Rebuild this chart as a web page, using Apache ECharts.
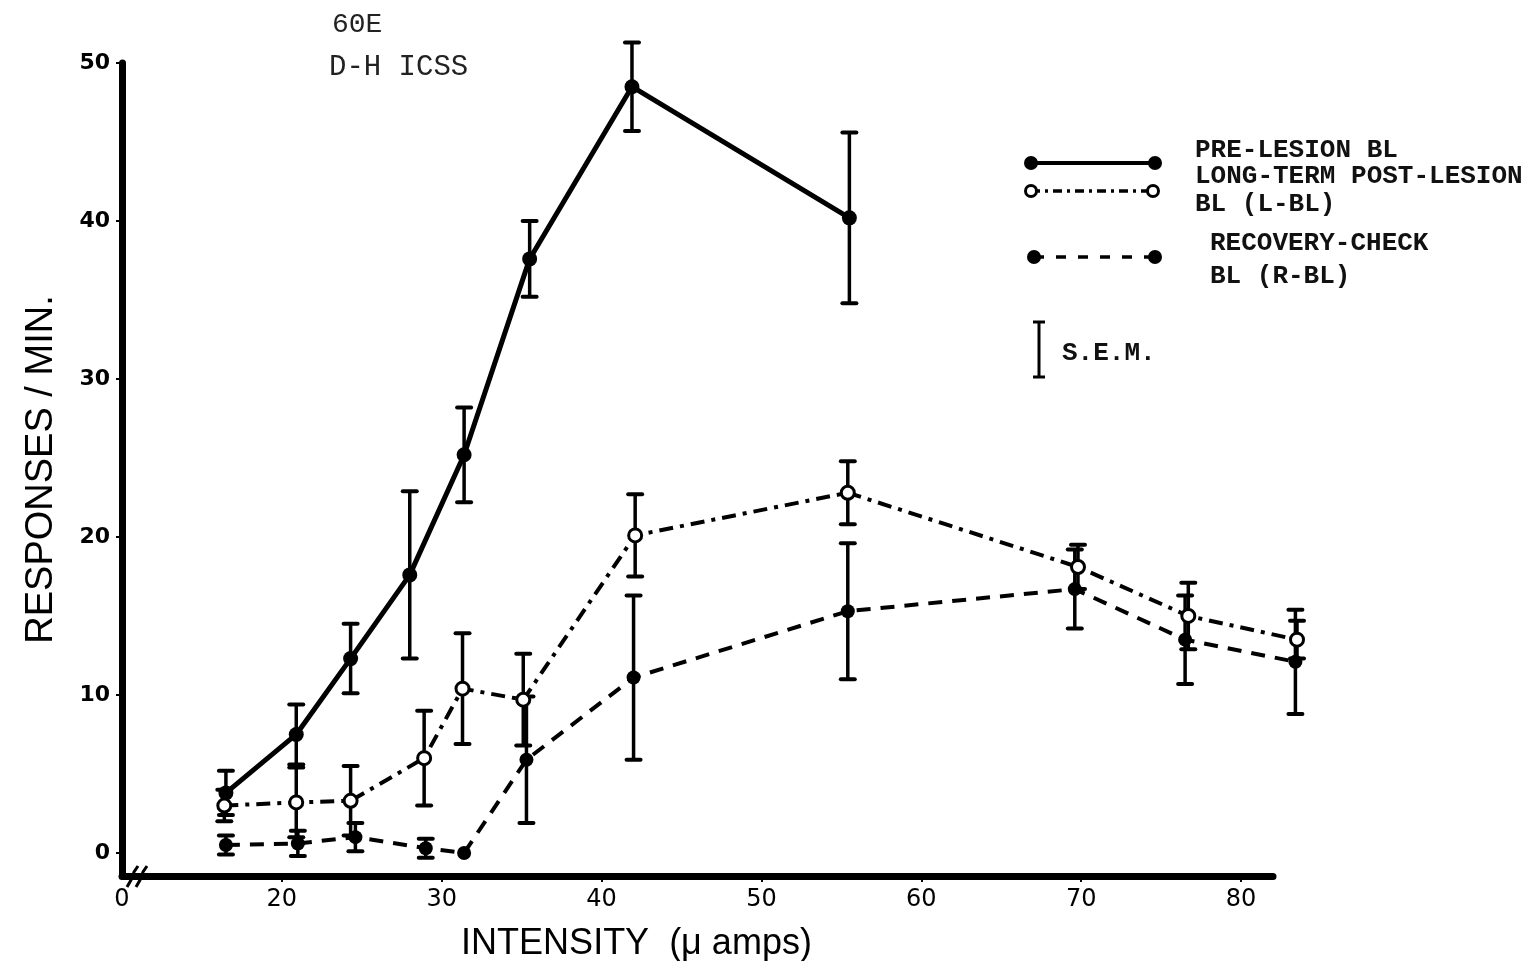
<!DOCTYPE html>
<html><head><meta charset="utf-8">
<script src="https://cdn.jsdelivr.net/npm/echarts@6/dist/echarts.min.js"></script>
<style>html,body{margin:0;padding:0;background:#fff}#c{width:1531px;height:961px}</style>
</head><body><div id="c"></div>
<script>
// Axis ticks (the "0" tick sits at the broken-axis start)
const xTickValues = [10, 20, 30, 40, 50, 60, 70, 80];
const xTickLabels = ['0', '20', '30', '40', '50', '60', '70', '80'];
const yTickValues = [0, 10, 20, 30, 40, 50];

// PRE-LESION BL (solid, filled circles)
const preX   = [16.5, 20.9, 24.3, 28.0, 31.4, 35.5, 41.9, 55.5];
const preY   = [3.8, 7.5, 12.3, 17.6, 25.2, 37.6, 48.5, 40.2];
const preSem = [1.4, 1.9, 2.2, 5.3, 3.0, 2.4, 2.8, 5.4];

// LONG-TERM POST-LESION BL (L-BL) (dash-dot, open circles)
const lblX   = [16.4, 20.9, 24.3, 28.9, 31.3, 35.1, 42.1, 55.4, 69.8, 76.7, 83.5];
const lblY   = [3.0, 3.2, 3.3, 6.0, 10.4, 9.7, 20.1, 22.8, 18.1, 15.0, 13.5];
const lblSem = [1.0, 2.2, 2.2, 3.0, 3.5, 2.9, 2.6, 2.0, 1.4, 2.1, 1.2];

// RECOVERY-CHECK BL (R-BL) (dashed, filled circles)
const rblX   = [16.5, 21.0, 24.6, 29.0, 31.4, 35.3, 42.0, 55.4, 69.6, 76.5, 83.4];
const rblY   = [0.5, 0.6, 1.0, 0.3, 0.0, 5.9, 11.1, 15.3, 16.7, 13.5, 12.1];
const rblSem = [0.6, 0.8, 0.9, 0.6, 0, 4.0, 5.2, 4.3, 2.5, 2.8, 3.3];

const pts = (xs, ys) => xs.map((x, i) => [x, ys[i]]);
const errPts = (xs, ys, es) => xs.map((x, i) => [x, ys[i], es[i]]);

function errRender(params, api) {
  const x = api.value(0), y = api.value(1), e = api.value(2);
  if (!e) return { type: 'group', children: [] };
  const top = api.coord([x, y + e]), bot = api.coord([x, y - e]);
  const w = 7;
  return { type: 'group', children: [
    { type: 'line', shape: { x1: top[0], y1: top[1], x2: bot[0], y2: bot[1] }, style: { stroke: '#000', lineWidth: 3.5 } },
    { type: 'line', shape: { x1: top[0] - w, y1: top[1], x2: top[0] + w, y2: top[1] }, style: { stroke: '#000', lineWidth: 4, lineCap: 'round' } },
    { type: 'line', shape: { x1: bot[0] - w, y1: bot[1], x2: bot[0] + w, y2: bot[1] }, style: { stroke: '#000', lineWidth: 4, lineCap: 'round' } }
  ] };
}

const errSeries = (name, data) => ({
  type: 'custom', name, data, renderItem: errRender, clip: false, z: 2,
  xAxisIndex: 0, yAxisIndex: 0, encode: { x: 0, y: 1 }, silent: true
});

const chart = echarts.init(document.getElementById('c'), null, { renderer: 'canvas' });
const legText = { fontFamily: 'Liberation Mono', fontWeight: 'bold', fontSize: 26, fill: '#111' };

// plot grid: x from 10 to 84 (data extends past the drawn axis line)
// axis grid: x from 10 to 82 (drawn axis line, ticks and labels) — same scale
chart.setOption({
  backgroundColor: '#fff',
  animation: false,
  grid: [
    { left: 122, right: 226, top: 63, bottom: 85, containLabel: false, outerBoundsMode: 'none' },
    { left: 122, right: 258, top: 63, bottom: 85, containLabel: false, outerBoundsMode: 'none' }
  ],
  xAxis: [
    {
      gridIndex: 0, type: 'value', min: 10, max: 84,
      axisLine: { show: false }, axisTick: { show: false }, axisLabel: { show: false }, splitLine: { show: false }
    },
    {
      gridIndex: 1, type: 'value', min: 10, max: 82,
      axisLine: { show: true, onZero: false, lineStyle: { color: '#000', width: 7 } },
      axisTick: { show: true, customValues: xTickValues.slice(1), length: 6, lineStyle: { color: '#000', width: 2 } },
      axisLabel: {
        customValues: xTickValues, margin: 12, color: '#000', fontFamily: 'DejaVu Sans', fontSize: 24,
        formatter: v => xTickLabels[xTickValues.indexOf(v)]
      },
      splitLine: { show: false },
      name: 'INTENSITY  (\u03bc amps)', nameLocation: 'middle', nameGap: 50,
      nameTextStyle: { fontFamily: 'Liberation Sans', fontSize: 36, color: '#000', padding: [0, 122, 0, 0] }
    }
  ],
  yAxis: [
    {
      gridIndex: 0, type: 'value', min: -1.46, max: 50,
      axisLine: { show: true, onZero: false, lineStyle: { color: '#000', width: 7 } },
      axisTick: { show: true, customValues: yTickValues, length: 6, lineStyle: { color: '#000', width: 2 } },
      axisLabel: { customValues: yTickValues, margin: 12, color: '#000', fontFamily: 'DejaVu Sans', fontWeight: 'bold', fontSize: 22 },
      splitLine: { show: false },
      name: 'RESPONSES / MIN.', nameLocation: 'middle', nameGap: 61, nameRotate: 90,
      nameTextStyle: { fontFamily: 'Liberation Sans', fontSize: 38, color: '#000' }
    },
    {
      gridIndex: 1, type: 'value', min: -1.46, max: 50,
      axisLine: { show: false }, axisTick: { show: false }, axisLabel: { show: false }, splitLine: { show: false }
    }
  ],
  series: [
    errSeries('PRE-LESION BL SEM', errPts(preX, preY, preSem)),
    errSeries('L-BL SEM', errPts(lblX, lblY, lblSem)),
    errSeries('R-BL SEM', errPts(rblX, rblY, rblSem)),
    {
      type: 'line', name: 'PRE-LESION BL', data: pts(preX, preY), xAxisIndex: 0, yAxisIndex: 0, clip: false, z: 3,
      symbol: 'circle', symbolSize: 15, itemStyle: { color: '#000' },
      lineStyle: { color: '#000', width: 5 }
    },
    {
      type: 'line', name: 'RECOVERY-CHECK BL (R-BL)', data: pts(rblX, rblY), xAxisIndex: 0, yAxisIndex: 0, clip: false, z: 3,
      symbol: 'circle', symbolSize: 14, itemStyle: { color: '#000' },
      lineStyle: { color: '#000', width: 4, type: [14, 10] }
    },
    {
      type: 'line', name: 'LONG-TERM POST-LESION BL (L-BL)', data: pts(lblX, lblY), xAxisIndex: 0, yAxisIndex: 0, clip: false, z: 4,
      symbol: 'circle', symbolSize: 13, itemStyle: { color: '#fff', borderColor: '#000', borderWidth: 3 },
      lineStyle: { color: '#000', width: 4, type: [14, 7, 4, 7] }
    }
  ],
  graphic: [
    // axis break mark
    { type: 'polyline', shape: { points: [[127, 887], [131, 880], [134, 872], [138, 866]] }, style: { stroke: '#000', lineWidth: 3, fill: null } },
    { type: 'polyline', shape: { points: [[136, 887], [140, 880], [143, 872], [147, 866]] }, style: { stroke: '#000', lineWidth: 3, fill: null } },
    // header text
    { type: 'text', left: 332, top: 11, style: { text: '60E', fontFamily: 'Liberation Mono', fontSize: 28, fill: '#222' } },
    { type: 'text', left: 329, top: 53, style: { text: 'D-H ICSS', fontFamily: 'Liberation Mono', fontSize: 29, fill: '#222' } },
    // legend: solid
    { type: 'line', shape: { x1: 1031, y1: 163, x2: 1155, y2: 163 }, style: { stroke: '#000', lineWidth: 4 } },
    { type: 'circle', shape: { cx: 1031, cy: 163, r: 7 }, style: { fill: '#000' } },
    { type: 'circle', shape: { cx: 1155, cy: 163, r: 7 }, style: { fill: '#000' } },
    // legend: dash-dot open
    { type: 'line', shape: { x1: 1031, y1: 191, x2: 1153, y2: 191 }, style: { stroke: '#000', lineWidth: 3.5, lineDash: [9, 5, 3, 5] } },
    { type: 'circle', shape: { cx: 1031, cy: 191, r: 5.5 }, style: { fill: '#fff', stroke: '#000', lineWidth: 3 } },
    { type: 'circle', shape: { cx: 1153, cy: 191, r: 5.5 }, style: { fill: '#fff', stroke: '#000', lineWidth: 3 } },
    // legend: dashed
    { type: 'line', shape: { x1: 1034, y1: 257, x2: 1155, y2: 257 }, style: { stroke: '#000', lineWidth: 3.5, lineDash: [10, 12] } },
    { type: 'circle', shape: { cx: 1034, cy: 257, r: 7 }, style: { fill: '#000' } },
    { type: 'circle', shape: { cx: 1155, cy: 257, r: 7 }, style: { fill: '#000' } },
    // legend: SEM
    { type: 'line', shape: { x1: 1039, y1: 322, x2: 1039, y2: 377 }, style: { stroke: '#000', lineWidth: 3 } },
    { type: 'line', shape: { x1: 1033, y1: 322, x2: 1045, y2: 322 }, style: { stroke: '#000', lineWidth: 3 } },
    { type: 'line', shape: { x1: 1033, y1: 377, x2: 1045, y2: 377 }, style: { stroke: '#000', lineWidth: 3 } },
    // legend texts
    { type: 'text', left: 1195, top: 137, style: Object.assign({ text: 'PRE-LESION BL' }, legText) },
    { type: 'text', left: 1195, top: 163, style: Object.assign({ text: 'LONG-TERM POST-LESION' }, legText) },
    { type: 'text', left: 1195, top: 191, style: Object.assign({ text: 'BL (L-BL)' }, legText) },
    { type: 'text', left: 1210, top: 230, style: Object.assign({ text: 'RECOVERY-CHECK' }, legText) },
    { type: 'text', left: 1210, top: 263, style: Object.assign({ text: 'BL (R-BL)' }, legText) },
    { type: 'text', left: 1062, top: 340, style: Object.assign({ text: 'S.E.M.' }, legText) }
  ]
});
</script>
</body></html>
